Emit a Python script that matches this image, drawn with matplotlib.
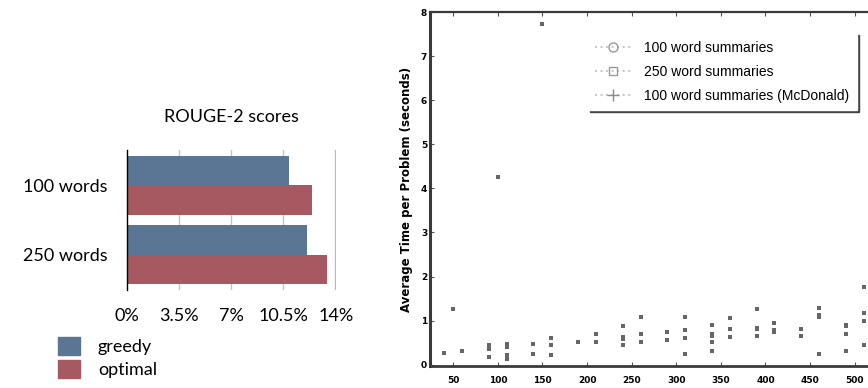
import numpy as np
import matplotlib.pyplot as plt
from matplotlib.patches import Patch
from matplotlib.lines import Line2D

# left panel: ROUGE-2 scores (%)
groups = ["100 words", "250 words"]
greedy = [10.9, 12.05]
optimal = [12.4, 13.4]
pct_ticks = [0, 3.5, 7, 10.5, 14]
pct_labels = ["0%", "3.5%", "7%", "10.5%", "14%"]

# right panel: average time per problem (seconds)
sizes = [50, 100, 150, 200, 250, 300, 350, 400, 450, 500]
times_100 = [[0.26, 0.26], [0.45, 0.36, 0.17], [0.47, 0.24], [0.51],
             [0.87, 0.62, 0.58, 0.44], [0.73, 0.55], [0.91, 0.69, 0.66, 0.51, 0.30],
             [1.27, 0.83, 0.80, 0.66], [0.80, 0.66], [0.91, 0.87, 0.69, 0.30]]
times_250 = [[0.30], [0.46, 0.39, 0.22, 0.14], [0.60, 0.44, 0.22], [0.69, 0.51],
             [1.08, 0.69, 0.51], [1.08, 0.78, 0.61, 0.24], [1.05, 0.80, 0.62],
             [0.94, 0.78, 0.74], [1.29, 1.12, 1.08, 0.24], [1.77, 1.17, 0.99, 0.44]]
mcd_sizes = [50, 100, 150]
mcd_times = [1.27, 4.25, 7.73]

blue = "#5b7595"
red = "#a65961"

fig = plt.figure(figsize=(8.68, 3.88), dpi=100)

# ---- bar chart ----
ax = fig.add_axes([126.7 / 868, 98 / 388, 209 / 868, 140 / 388])
y = np.arange(len(groups))
h = 0.43
ax.barh(y - h / 2, greedy, height=h, color=blue, zorder=2)
ax.barh(y + h / 2, optimal, height=h, color=red, zorder=2)
ax.set_xlim(0, 14)
ax.set_ylim(1.51, -0.51)
ax.set_xticks(pct_ticks)
ax.set_xticklabels(pct_labels, family="Lato", fontsize=13)
ax.set_yticks(y)
ax.set_yticklabels(groups, family="Lato", fontsize=13)
ax.tick_params(axis="x", length=0, pad=13)
ax.tick_params(axis="y", length=0, pad=14)
for t in pct_ticks[1:-1]:
    ax.axvline(t, color="#c4c4c4", lw=1, zorder=1)
ax.axvline(14, color="#b8b8b8", lw=1.6, zorder=1)
for s in ["top", "right", "bottom"]:
    ax.spines[s].set_visible(False)
ax.spines["left"].set_color("black")
ax.spines["left"].set_linewidth(1)
ax.set_title("ROUGE-2 scores", family="Lato", fontsize=13, pad=20)

fig.legend([Patch(color=blue), Patch(color=red)], ["greedy", "optimal"],
           loc="upper left", bbox_to_anchor=(42 / 868, 1 - 321 / 388),
           frameon=False, prop={"family": "Lato", "size": 13},
           handlelength=1.2, handleheight=1.15, handletextpad=1.0,
           labelspacing=0.25)

# ---- timing scatter ----
ax2 = fig.add_axes([430 / 868, 22 / 388, 447 / 868, 354 / 388])
dodge = 10
for s, vals in zip(sizes, times_100):
    ax2.plot([s - dodge] * len(vals), vals, "s", color="#666666", ms=2.6, mew=0)
for s, vals in zip(sizes, times_250):
    ax2.plot([s + dodge] * len(vals), vals, "s", color="#666666", ms=2.6, mew=0)
ax2.plot(mcd_sizes, mcd_times, "s", color="#666666", ms=2.6, mew=0)

ax2.set_xlim(24, 525)
ax2.set_ylim(-0.03, 8)
ax2.set_xticks(sizes)
ax2.set_yticks(range(9))
ax2.tick_params(direction="in", length=3, width=0.8, color="#555",
                labelsize=6.5, top=True)
ax2.tick_params(axis="x", pad=7)
ax2.tick_params(axis="y", pad=2)
for lab in ax2.get_xticklabels() + ax2.get_yticklabels():
    lab.set_fontweight("bold")
ax2.spines["left"].set_linewidth(2.2)
ax2.spines["bottom"].set_linewidth(2)
ax2.spines["top"].set_linewidth(1.6)
ax2.spines["right"].set_visible(False)
for s in ["left", "bottom", "top"]:
    ax2.spines[s].set_color("#3a3a3a")
ax2.set_ylabel("Average Time per Problem (seconds)", fontsize=8.5,
               fontweight="bold", labelpad=6)

handles = [Line2D([], [], ls=":", color="#c8c8c8", marker="o", mfc="none",
                  mec="#9a9a9a", ms=6.5),
           Line2D([], [], ls=":", color="#c8c8c8", marker="s", mfc="none",
                  mec="#9a9a9a", ms=5.5),
           Line2D([], [], ls=":", color="#c8c8c8", marker="+", mec="#8a8a8a",
                  ms=8)]
ax2.legend(handles, ["100 word summaries", "250 word summaries",
                     "100 word summaries (McDonald)"],
           loc="upper left", bbox_to_anchor=(0.353, 0.941), borderaxespad=0,
           prop={"family": "Liberation Sans", "size": 10},
           fancybox=False, edgecolor="white", framealpha=1,
           shadow={"color": "#444444", "alpha": 1, "ox": 1.5, "oy": -1.5},
           handlelength=2.6, handletextpad=0.9, labelspacing=0.72,
           borderpad=0.55)

fig.savefig("out.png", dpi=100)
